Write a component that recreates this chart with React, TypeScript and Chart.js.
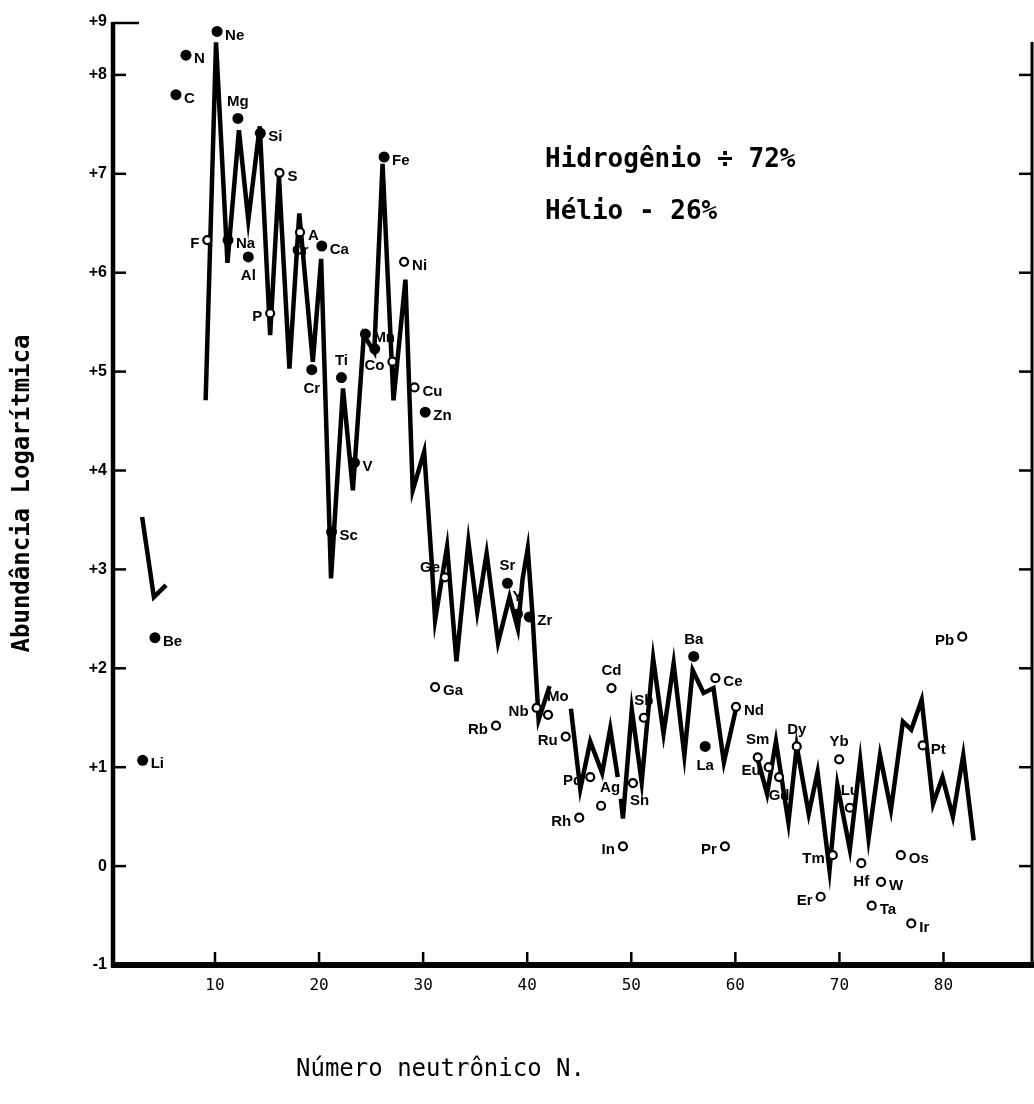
import React, { useEffect, useRef } from 'react';
import { Chart, registerables } from 'chart.js';

Chart.register(...registerables);

// ---------- data ----------
const xTickValues = [10, 20, 30, 40, 50, 60, 70, 80];
const yTickValues = [-1, 0, 1, 2, 3, 4, 5, 6, 7, 8];
const yTickLabels = ['-1', '0', '+1', '+2', '+3', '+4', '+5', '+6', '+7', '+8'];
const yTopLabel = '+9';

// zig-zag abundance line, in separate pieces: [N, log abundance]
const lineLiBe: [number, number][] = [[3.0, 3.53], [4.13, 2.72], [5.3, 2.84]];
const lineMain: [number, number][] = [
  [9.1, 4.71], [10.1, 8.33], [11.2, 6.1], [12.3, 7.44], [13.2, 6.53], [14.3, 7.48],
  [15.3, 5.37], [16.15, 6.97], [17.15, 5.03], [18.1, 6.6], [19.4, 5.1], [20.2, 6.14],
  [21.15, 2.91], [22.3, 4.83], [23.25, 3.8], [24.3, 5.37], [25.3, 5.2], [26.1, 7.1],
  [27.15, 4.71], [28.3, 5.93], [29.0, 3.8], [30.1, 4.19], [30.8, 3.11], [31.15, 2.49],
  [32.3, 3.23], [33.2, 2.07], [34.35, 3.28], [35.2, 2.57], [36.1, 3.16], [37.2, 2.26],
  [38.3, 2.72], [39.1, 2.4], [39.55, 2.9], [40.05, 3.21], [40.5, 2.55], [41.1, 1.48],
  [42.15, 1.82],
];
const linePd: [number, number][] = [
  [44.2, 1.59], [45.1, 0.78], [46.06, 1.26], [47.2, 0.94], [47.98, 1.39], [48.7, 0.9],
];
const lineSnNd: [number, number][] = [
  [49.0, 0.68], [49.2, 0.48], [50.05, 1.58], [51.0, 0.85], [52.1, 2.1], [53.1, 1.34],
  [54.07, 2.05], [55.1, 1.12], [55.9, 1.98], [56.95, 1.75], [57.9, 1.8], [58.9, 1.05],
  [60.1, 1.61],
];
const lineHeavy: [number, number][] = [
  [62.1, 1.1], [63.05, 0.73], [63.9, 1.26], [65.1, 0.44], [65.9, 1.21], [67.05, 0.53],
  [67.9, 0.95], [69.05, -0.04], [69.8, 0.82], [71.0, 0.17], [72.0, 1.07], [72.8, 0.28],
  [73.9, 1.12], [74.95, 0.57], [76.1, 1.46], [76.9, 1.38], [77.9, 1.68], [79.0, 0.63],
  [79.9, 0.9], [80.9, 0.5], [81.9, 1.12], [82.9, 0.26],
];

// filled-circle elements
const filledNames = ['Li', 'Be', 'C', 'N', 'Ne', 'Na', 'Mg', 'Al', 'Si', 'Ca', 'Cr', 'Ti', 'Sc', 'V', 'Mn', '', 'Fe', 'Zn', 'Sr', 'Y', 'Zr', 'Ba', 'La'];
const filledN = [3.05, 4.23, 6.25, 7.21, 10.2, 11.25, 12.2, 13.2, 14.36, 20.26, 19.3, 22.15, 21.2, 23.4, 24.45, 25.35, 26.25, 30.2, 38.1, 39.07, 40.2, 56.0, 57.1];
const filledV = [1.07, 2.31, 7.8, 8.2, 8.44, 6.33, 7.56, 6.16, 7.41, 6.27, 5.02, 4.94, 3.38, 4.08, 5.38, 5.23, 7.17, 4.59, 2.86, 2.55, 2.52, 2.12, 1.21];

// open-circle elements
const openNames = ['F', 'S', 'A', 'P', 'Co', 'Ni', 'Cu', 'Ge', 'Ga', 'Rb', 'Nb', 'Mo', 'Ru', 'Rh', 'Pd', 'Ag', 'Cd', 'In', 'Sn', 'Sb', 'Ce', 'Pr', 'Nd', 'Sm', 'Eu', 'Gd', 'Dy', 'Yb', 'Lu', 'Tm', 'Er', 'Hf', 'W', 'Ta', 'Os', 'Ir', 'Pt', 'Pb'];
const openN = [9.26, 16.2, 18.17, 15.3, 27.05, 28.17, 29.17, 32.1, 31.15, 37.0, 40.9, 42.0, 43.7, 45.0, 46.06, 47.1, 48.1, 49.2, 50.16, 51.2, 58.08, 59.0, 60.06, 62.15, 63.2, 64.2, 65.9, 69.97, 71.0, 69.36, 68.2, 72.1, 74.0, 73.1, 75.9, 76.9, 78.0, 81.8];
const openV = [6.33, 7.01, 6.41, 5.59, 5.1, 6.11, 4.84, 2.92, 1.81, 1.42, 1.6, 1.53, 1.31, 0.49, 0.9, 0.61, 1.8, 0.2, 0.84, 1.5, 1.9, 0.2, 1.61, 1.1, 1.0, 0.9, 1.21, 1.08, 0.59, 0.11, -0.31, 0.03, -0.16, -0.4, 0.11, -0.58, 1.22, 2.32];

// label with no marker
const plainNames = ['Cr'];
const plainN = [18.2];
const plainV = [6.22];

const annotationLines = ['Hidrogênio ÷ 72%', 'Hélio - 26%'];
const xTitle = 'Número neutrônico N.';
const yTitle = 'Abundância Logarítmica';

// ---------- layout / style config ----------
const labelSide: Record<string, string> = {
  Li: 'r', Be: 'r', C: 'r', N: 'r', Ne: 'r', Na: 'r', Mg: 'a', Al: 'b', Si: 'r', Ca: 'r',
  Cr: 'b', Ti: 'a', Sc: 'r', V: 'r', Mn: 'r', Fe: 'r', Zn: 'r', Sr: 'a', Y: 'a', Zr: 'r',
  Ba: 'a', La: 'b', F: 'l', S: 'r', A: 'r', P: 'l', Co: 'l', Ni: 'r', Cu: 'r', Ge: 'al',
  Ga: 'r', Rb: 'l', Nb: 'l', Mo: 'ar', Ru: 'l', Rh: 'l', Pd: 'l', Ag: 'ar', Cd: 'a', In: 'l',
  Sn: 'br', Sb: 'a', Ce: 'r', Pr: 'l', Nd: 'r', Sm: 'a', Eu: 'l', Gd: 'b', Dy: 'a', Yb: 'a',
  Lu: 'a', Tm: 'l', Er: 'l', Hf: 'b', W: 'r', Ta: 'r', Os: 'r', Ir: 'r', Pt: 'r', Pb: 'l',
};

const W = 1034;
const H = 1104;
const MONO = "'DejaVu Sans Mono', 'Liberation Mono', monospace";
const SANS = "'Liberation Sans', Arial, sans-serif";

const toPts = (seg: [number, number][]) => seg.map(([x, y]) => ({ x, y }));
const zipPts = (xs: number[], ys: number[]) => xs.map((x, i) => ({ x, y: ys[i] }));

const framePlugin = {
  id: 'frame',
  afterDraw(chart: any) {
    const { ctx, chartArea, scales } = chart;
    const { left, right, top, bottom } = chartArea;
    ctx.save();
    ctx.strokeStyle = '#000';
    ctx.lineCap = 'butt';
    // left axis
    ctx.lineWidth = 4.5;
    ctx.beginPath(); ctx.moveTo(left, top); ctx.lineTo(left, bottom + 2); ctx.stroke();
    // right axis
    ctx.lineWidth = 3;
    ctx.beginPath(); ctx.moveTo(right - 1, top + 20); ctx.lineTo(right - 1, bottom); ctx.stroke();
    // bottom axis
    ctx.lineWidth = 6;
    ctx.beginPath(); ctx.moveTo(left - 2, bottom); ctx.lineTo(W, bottom); ctx.stroke();
    // y ticks (inward, both sides)
    ctx.lineWidth = 2.5;
    yTickValues.forEach((v) => {
      const py = scales.y.getPixelForValue(v);
      ctx.beginPath(); ctx.moveTo(left, py); ctx.lineTo(left + 13, py); ctx.stroke();
      ctx.beginPath(); ctx.moveTo(right - 1, py); ctx.lineTo(right - 14, py); ctx.stroke();
    });
    ctx.beginPath(); ctx.moveTo(left, top + 1); ctx.lineTo(left + 26, top + 1); ctx.stroke();
    // x ticks (inward)
    xTickValues.forEach((v) => {
      const px = scales.x.getPixelForValue(v);
      ctx.beginPath(); ctx.moveTo(px, bottom); ctx.lineTo(px, bottom - 13); ctx.stroke();
    });
    // texts
    ctx.fillStyle = '#000';
    ctx.textBaseline = 'middle';
    ctx.textAlign = 'left';
    ctx.font = `bold 26px ${MONO}`;
    ctx.fillText(annotationLines[0], 545, 160);
    ctx.fillText(annotationLines[1], 545, 212);
    ctx.font = `24px ${MONO}`;
    ctx.fillText(xTitle, 296, 1070);
    ctx.restore();
  },
};

const labelPlugin = {
  id: 'elementLabels',
  afterDatasetsDraw(chart: any) {
    const ctx = chart.ctx;
    ctx.save();
    ctx.font = `bold 15px ${SANS}`;
    ctx.fillStyle = '#000';
    ctx.textBaseline = 'middle';
    const groups: [number, string[], boolean][] = [[0, filledNames, false], [1, openNames, false], [2, plainNames, true]];
    groups.forEach(([di, names, plain]) => {
      const meta = chart.getDatasetMeta(di);
      meta.data.forEach((el: any, i: number) => {
        const name = names[i];
        if (!name) return;
        const side = plain ? 'c' : (labelSide[name] || 'r');
        let x = el.x;
        let y = el.y;
        let align: CanvasTextAlign = 'left';
        switch (side) {
          case 'r': x += 8; y += 4; align = 'left'; break;
          case 'l': x -= 8; y += 4; align = 'right'; break;
          case 'a': y -= 17; align = 'center'; break;
          case 'b': y += 19; align = 'center'; break;
          case 'ar': x -= 1; y -= 18; align = 'left'; break;
          case 'al': x -= 5; y -= 9; align = 'right'; break;
          case 'br': x -= 3; y += 18; align = 'left'; break;
          default: align = 'center';
        }
        ctx.textAlign = align;
        ctx.fillText(name, x, y);
      });
    });
    ctx.restore();
  },
};

export default function App() {
  const ref = useRef<HTMLCanvasElement>(null);

  useEffect(() => {
    const canvas = ref.current;
    if (!canvas) return;
    const segments = [lineLiBe, lineMain, linePd, lineSnNd, lineHeavy];
    const chart = new Chart(canvas, {
      type: 'scatter',
      data: {
        datasets: [
          {
            label: 'filled',
            data: zipPts(filledN, filledV),
            pointRadius: 5.5,
            pointBackgroundColor: '#000',
            pointBorderColor: '#000',
            pointBorderWidth: 0,
            showLine: false,
            order: 1,
          },
          {
            label: 'open',
            data: zipPts(openN, openV),
            pointRadius: 4,
            pointBackgroundColor: '#fff',
            pointBorderColor: '#000',
            pointBorderWidth: 2.2,
            showLine: false,
            order: 0,
          },
          {
            label: 'plain',
            data: zipPts(plainN, plainV),
            pointRadius: 0,
            showLine: false,
            order: 2,
          },
          ...segments.map((seg, i) => ({
            label: `line${i}`,
            data: toPts(seg),
            showLine: true,
            pointRadius: 0,
            borderColor: '#000',
            borderWidth: 4.5,
            borderJoinStyle: 'miter' as const,
            order: 5,
          })),
        ],
      } as any,
      options: {
        animation: false,
        responsive: false,
        maintainAspectRatio: false,
        events: [],
        layout: { autoPadding: false, padding: { top: 22, right: 1, left: 0, bottom: 0 } },
        plugins: { legend: { display: false }, tooltip: { enabled: false } },
        scales: {
          x: {
            type: 'linear',
            min: 0.2,
            max: 88.6,
            grid: { display: false, drawTicks: false },
            border: { display: false },
            afterBuildTicks: (s: any) => { s.ticks = xTickValues.map((v) => ({ value: v })); },
            afterFit: (s: any) => { s.height = 139; s.paddingLeft = 0; s.paddingRight = 0; },
            ticks: {
              autoSkip: false,
              maxRotation: 0,
              padding: 11,
              color: '#000',
              font: { family: MONO, size: 16 },
              callback: (v: any) => String(v),
            },
          },
          y: {
            type: 'linear',
            min: -1,
            max: 8.535,
            grid: { display: false, drawTicks: false },
            border: { display: false },
            afterBuildTicks: (s: any) => {
              s.ticks = [...yTickValues.map((v) => ({ value: v })), { value: s.max }];
            },
            afterFit: (s: any) => { s.width = 113; s.paddingTop = 0; s.paddingBottom = 0; },
            ticks: {
              autoSkip: false,
              padding: 6,
              color: '#000',
              font: { family: SANS, size: 16, weight: 'bold' },
              callback: (v: any) => {
                const idx = yTickValues.indexOf(v);
                return idx >= 0 ? yTickLabels[idx] : yTopLabel;
              },
            },
            title: {
              display: true,
              text: yTitle,
              color: '#000',
              font: { family: MONO, size: 24, weight: 'bold' },
              padding: { top: 8, bottom: 0 },
            },
          },
        },
      } as any,
      plugins: [framePlugin, labelPlugin],
    });
    return () => chart.destroy();
  }, []);

  return (
    <div style={{ position: 'absolute', left: 0, top: 0, width: W, height: H, background: '#fff' }}>
      <canvas ref={ref} width={W} height={H} style={{ width: W, height: H, display: 'block' }} />
    </div>
  );
}
